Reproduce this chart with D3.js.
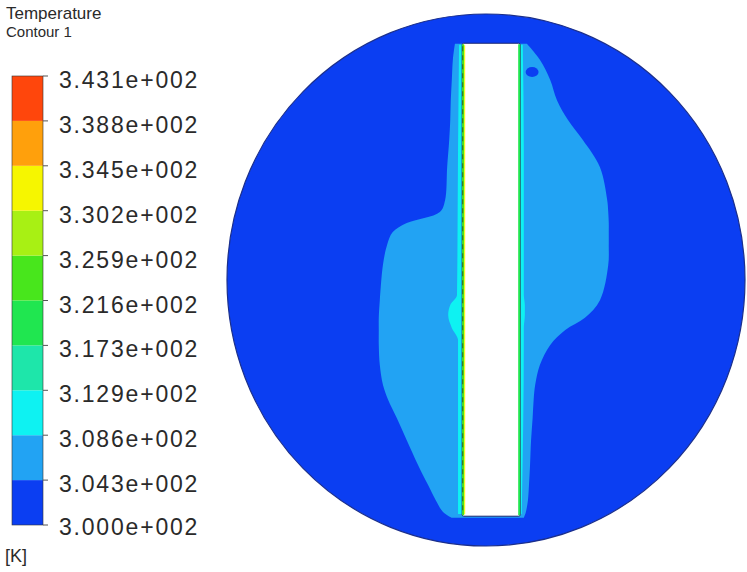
<!DOCTYPE html>
<html>
<head>
<meta charset="utf-8">
<script src="https://cdn.jsdelivr.net/npm/d3@7"></script>
<style>
  body { margin: 0; background: #fff; }
  svg { display: block; }
  .lg text { font-family: "Liberation Sans", Arial, sans-serif; fill: #2a2a2a; }
</style>
</head>
<body>
<svg id="chart" width="747" height="572"></svg>
<script>
// temperature bands (K) and their colours, bottom -> top
const bandEdges = [300.000, 304.313, 308.626, 312.939, 317.252, 321.565,
                   325.878, 330.191, 334.504, 338.817, 343.130];
const bandColors = ["#0b3ef2", "#22a3f3", "#0ef2f2", "#1ee6aa", "#20e650",
                    "#48e61c", "#a8f014", "#f6f600", "#ffa00c", "#ff460c"];
const tickLabels = ["3.000e+002", "3.043e+002", "3.086e+002", "3.129e+002",
                    "3.173e+002", "3.216e+002", "3.259e+002", "3.302e+002",
                    "3.345e+002", "3.388e+002", "3.431e+002"];
const legendTitle = "Temperature";
const legendSub = "Contour 1";
const unitLabel = "[K]";

// geometry in mm, circular domain of radius 50
const domainR = 50;
const plate = { x0: -4.6, x1: 6.6, y0: -44.4, y1: 44.5 };

// band 3.043–3.086 : [y, xLeft, xRight]
const warmProfile = [
  [44.4, -6.0, 7.9], [41.4, -6.4, 10.4], [37.6, -6.6, 12.4], [33.8, -6.8, 13.7],
  [30.1, -6.9, 15.8], [26.3, -7.1, 18.7], [21.2, -7.5, 22.0], [15.0, -7.9, 23.4],
  [12.8, -8.9, 23.6], [10.7, -15.3, 23.7], [9.0, -18.0, 23.7], [6.6, -19.1, 23.7],
  [2.8, -19.9, 23.6], [-3.8, -20.5, 22.0], [-7.1, -20.7, 19.1], [-9.4, -20.7, 15.3],
  [-12.2, -20.7, 12.4], [-16.0, -20.5, 10.4], [-19.7, -19.9, 9.5], [-22.5, -18.9, 9.2],
  [-26.0, -17.2, 9.0], [-30.1, -15.3, 8.7], [-34.8, -13.1, 8.5], [-38.5, -11.2, 8.3],
  [-41.4, -9.7, 8.1], [-43.6, -8.3, 7.7], [-44.7, -6.6, 7.3]
];
// band 3.086–3.129 along the plate walls
const wallProfile = [
  [44.2, -5.2, 7.1], [24.4, -5.4, 7.3], [-2.8, -5.6, 7.3], [-4.7, -6.9, 7.5],
  [-6.6, -7.3, 7.5], [-9.0, -6.6, 7.3], [-11.3, -5.4, 7.3], [-44.0, -5.4, 6.9]
];
// small cold pocket inside the warm band
const coldSpot = { cx: 8.9, cy: 39.1, rx: 1.25, ry: 0.95 };

const svg = d3.select("#chart");

// field
const x = d3.scaleLinear().domain([-domainR, domainR]).range([227, 745]);
const y = d3.scaleLinear().domain([-domainR, domainR]).range([546, 14]);

const field = svg.append("g");
field.append("ellipse")
  .attr("cx", x(0)).attr("cy", y(0))
  .attr("rx", x(domainR) - x(0)).attr("ry", y(0) - y(domainR))
  .attr("fill", bandColors[0])
  .attr("stroke", "#1b2f8c").attr("stroke-width", 1.2);

const area = d3.area()
  .y(d => y(d[0])).x0(d => x(d[1])).x1(d => x(d[2]))
  .curve(d3.curveCatmullRom.alpha(0.5));

field.append("path").datum(warmProfile)
  .attr("d", area).attr("fill", bandColors[1]);

field.append("ellipse")
  .attr("cx", x(coldSpot.cx)).attr("cy", y(coldSpot.cy))
  .attr("rx", x(coldSpot.rx) - x(0)).attr("ry", y(0) - y(coldSpot.ry))
  .attr("fill", bandColors[0]);

field.append("path").datum(wallProfile)
  .attr("d", area.curve(d3.curveMonotoneY)).attr("fill", bandColors[2]);

// plate (solid, no contour)
const px0 = x(plate.x0), px1 = x(plate.x1), py0 = y(plate.y1), py1 = y(plate.y0);
field.append("rect")
  .attr("x", px0).attr("y", py0)
  .attr("width", px1 - px0).attr("height", py1 - py0)
  .attr("rx", 1.5)
  .attr("fill", "#fff").attr("stroke", "#1a2670").attr("stroke-width", 1);

// hot thin layers on the plate walls
field.append("line")
  .attr("x1", px0 + 1).attr("x2", px0 + 1).attr("y1", py0 + 1).attr("y2", py1 - 1)
  .attr("stroke", bandColors[5]).attr("stroke-width", 2);
field.append("line")
  .attr("x1", px0 + 2.5).attr("x2", px0 + 2.5).attr("y1", py0 + 2).attr("y2", py1 - 2)
  .attr("stroke", bandColors[7]).attr("stroke-width", 1);
field.append("line")
  .attr("x1", px0 + 0.5).attr("x2", px0 + 0.5).attr("y1", py0 + 3).attr("y2", py1 - 3)
  .attr("stroke", "#3c6a1e").attr("stroke-width", 1).attr("stroke-dasharray", "5 4");
field.append("line")
  .attr("x1", px1 - 1).attr("x2", px1 - 1).attr("y1", py0 + 1).attr("y2", py1 - 1)
  .attr("stroke", bandColors[4]).attr("stroke-width", 2);

// legend
const lg = svg.append("g").attr("class", "lg");
const ly = d3.scaleLinear().domain([bandEdges[0], bandEdges[bandEdges.length - 1]]).range([525, 76]);

lg.append("text").attr("x", 6).attr("y", 19)
  .style("font-size", "17px").text(legendTitle);
lg.append("text").attr("x", 6).attr("y", 37)
  .style("font-size", "15px").text(legendSub);

lg.selectAll("rect.band")
  .data(d3.range(bandColors.length))
  .join("rect")
  .attr("class", "band")
  .attr("x", 12).attr("width", 31)
  .attr("y", i => ly(bandEdges[i + 1]))
  .attr("height", i => ly(bandEdges[i]) - ly(bandEdges[i + 1]))
  .attr("fill", i => bandColors[i]);

lg.append("rect")
  .attr("x", 12).attr("y", ly(bandEdges[bandEdges.length - 1]))
  .attr("width", 31).attr("height", ly(bandEdges[0]) - ly(bandEdges[bandEdges.length - 1]))
  .attr("fill", "none").attr("stroke", "#333").attr("stroke-width", 0.6);

lg.selectAll("line.tick")
  .data(bandEdges)
  .join("line")
  .attr("class", "tick")
  .attr("x1", 43).attr("x2", 48)
  .attr("y1", d => ly(d)).attr("y2", d => ly(d))
  .attr("stroke", "#555").attr("stroke-width", 1);

lg.selectAll("text.val")
  .data(bandEdges)
  .join("text")
  .attr("class", "val")
  .attr("x", 59)
  .attr("y", d => Math.min(ly(d) + 12, ly(bandEdges[0]) + 10))
  .style("font-size", "23px").style("letter-spacing", "1.8px")
  .text((d, i) => tickLabels[i]);

lg.append("text").attr("x", 5).attr("y", 562)
  .style("font-size", "18px").text(unitLabel);
</script>
</body>
</html>
